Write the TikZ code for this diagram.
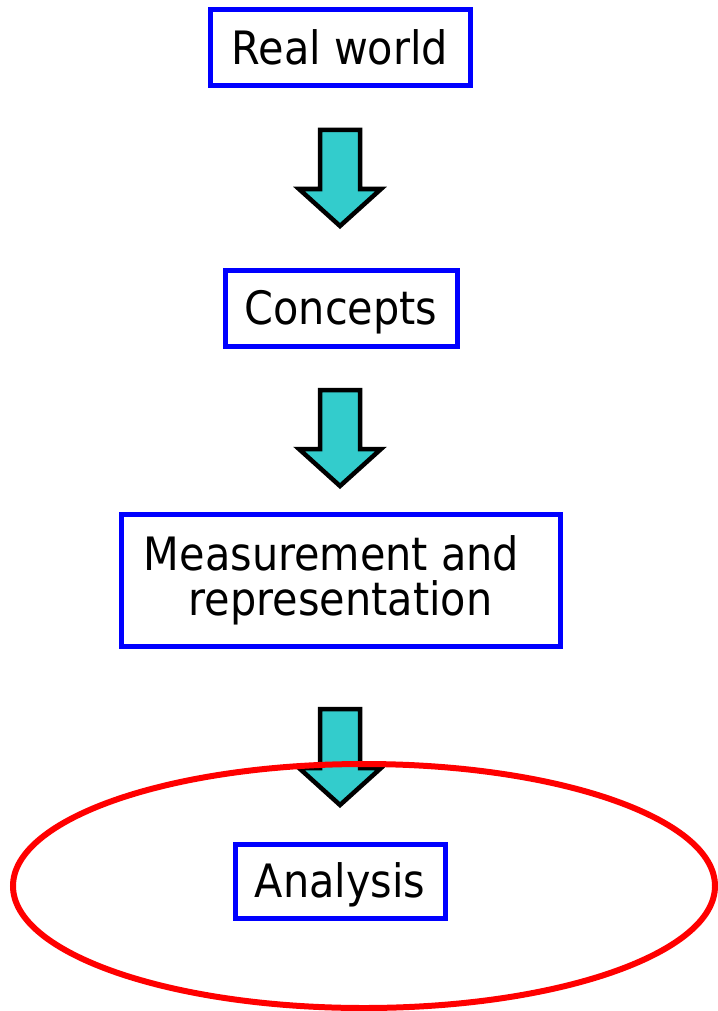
\documentclass[tikz,border=0pt]{standalone}
\usepackage{fontspec}
\setmainfont{DejaVu Sans Condensed}
\usetikzlibrary{calc}
\definecolor{boxblue}{RGB}{0,0,255}
\definecolor{arrcyan}{RGB}{51,204,204}
\definecolor{ovalred}{RGB}{255,0,0}
\begin{document}
\begin{tikzpicture}[x=1pt,y=-1pt,
  stagebox/.style={draw=boxblue,line width=5pt,fill=white,inner sep=0pt,
    font=\fontsize{46}{45}\selectfont,text height=33pt,text depth=0pt,align=center},
  arrowstyle/.style={draw=black,line width=4.5pt,fill=arrcyan,line join=miter},
  blockarrow/.pic={\draw[arrowstyle] (-20,0) -- (20,0) -- (20,59) -- (41,59) -- (0,96) -- (-41,59) -- (-20,59) -- cycle;}
]
\useasboundingbox (0,0) rectangle (717,1011);
\node[stagebox,minimum width=260pt,minimum height=76pt] (rw) at (340,48) {Real world};
\node[stagebox,minimum width=232pt,minimum height=76pt] (cp) at (341,308) {Concepts};
\node[stagebox,minimum width=439pt,minimum height=132pt,text height=70pt] (mr) at (340.5,580) {Measurement and\hspace*{18pt}\\representation};
\node[stagebox,minimum width=210pt,minimum height=74pt] (an) at (340,881) {Analysis};
\coordinate (a1) at (340,130);
\coordinate (a2) at (340,390);
\coordinate (a3) at (340,709);
\pic at (a1) {blockarrow};
\pic at (a2) {blockarrow};
\pic at (a3) {blockarrow};
\draw[ovalred,line width=6pt] (364,886) ellipse [x radius=351,y radius=122];
\end{tikzpicture}
\end{document}
